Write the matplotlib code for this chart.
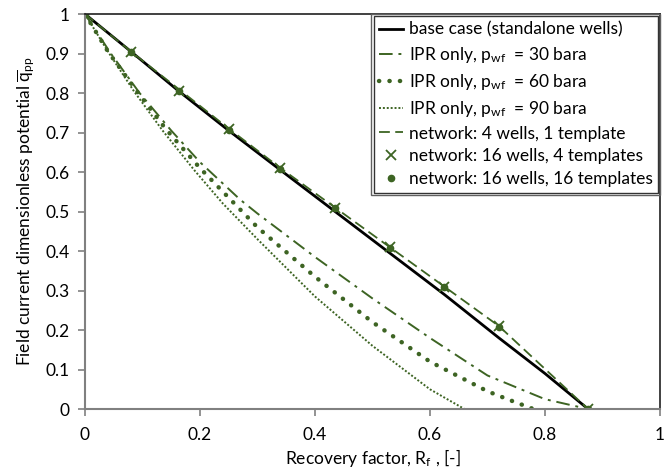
import numpy as np
import matplotlib
matplotlib.use("Agg")
import matplotlib.pyplot as plt
from matplotlib.patches import Rectangle

plt.rcParams['font.family'] = ['Lato', 'DejaVu Sans']
plt.rcParams['mathtext.fontset'] = 'custom'
plt.rcParams['mathtext.rm'] = 'Lato'
plt.rcParams['mathtext.it'] = 'Lato:italic'

GREEN = '#3d6423'

# base case (standalone wells)
rf_base = [0, 0.08, 0.163, 0.25, 0.34, 0.435, 0.53, 0.625, 0.72, 0.80, 0.875]
q_base = [1, 0.905, 0.805, 0.705, 0.605, 0.50, 0.395, 0.29, 0.18, 0.09, 0]

# IPR only curves
rf_ipr30 = [0, 0.045, 0.095, 0.15, 0.20, 0.27, 0.30, 0.40, 0.50, 0.60, 0.70, 0.80, 0.875]
q_ipr30 = [1, 0.90, 0.80, 0.705, 0.625, 0.53, 0.495, 0.385, 0.28, 0.18, 0.085, 0.025, 0]

rf_ipr60 = [0, 0.04, 0.09, 0.14, 0.20, 0.25, 0.30, 0.40, 0.50, 0.60, 0.70, 0.74, 0.78]
q_ipr60 = [1, 0.905, 0.805, 0.71, 0.61, 0.535, 0.46, 0.335, 0.22, 0.12, 0.045, 0.022, 0]

rf_ipr90 = [0, 0.04, 0.085, 0.135, 0.19, 0.24, 0.30, 0.40, 0.50, 0.60, 0.66]
q_ipr90 = [1, 0.905, 0.805, 0.705, 0.605, 0.52, 0.43, 0.285, 0.16, 0.05, 0]

# network runs
rf_net = [0, 0.08, 0.163, 0.25, 0.34, 0.435, 0.53, 0.625, 0.72, 0.875]
q_net4 = [1, 0.905, 0.81, 0.71, 0.61, 0.51, 0.41, 0.31, 0.21, 0]
q_net16_4 = [1, 0.905, 0.805, 0.71, 0.61, 0.51, 0.41, 0.31, 0.21, 0]
q_net16_16 = [1, 0.905, 0.805, 0.707, 0.608, 0.508, 0.408, 0.308, 0.208, 0]

fig = plt.figure(figsize=(6.67, 4.68), dpi=100)
ax = fig.add_axes([0.1274, 0.126, 0.862, 0.844])

ax.plot(rf_base, q_base, color='black', lw=2.0, label='base case (standalone wells)')
ax.plot(rf_ipr30, q_ipr30, color=GREEN, lw=1.4, ls=(0, (7, 3, 1.5, 3)),
        label=r'IPR only, p$_{\rm wf}$  = 30 bara')
ax.plot(rf_ipr60, q_ipr60, color=GREEN, lw=3.2, ls=(0, (0.05, 2.3)),
        dash_capstyle='round', label=r'IPR only, p$_{\rm wf}$  = 60 bara')
ax.plot(rf_ipr90, q_ipr90, color=GREEN, lw=1.4, ls=(0, (1, 1)),
        label=r'IPR only, p$_{\rm wf}$  = 90 bara')
ax.plot(rf_net, q_net4, color=GREEN, lw=1.3, ls=(0, (6, 3)),
        label='network: 4 wells, 1 template')
ax.plot(rf_net, q_net16_4, color=GREEN, ls='none', marker='x', ms=7, mew=1.3,
        label='network: 16 wells, 4 templates')
ax.plot(rf_net, q_net16_16, color=GREEN, ls='none', marker='o', ms=4.5,
        label='network: 16 wells, 16 templates')

ax.set_xlim(0, 1)
ax.set_ylim(0, 1)
ax.set_xticks(np.arange(0, 1.01, 0.2))
ax.set_xticklabels(['0', '0.2', '0.4', '0.6', '0.8', '1'])
ax.set_yticks(np.arange(0, 1.01, 0.1))
ax.set_yticklabels(['0'] + ['%.1f' % v for v in np.arange(0.1, 0.95, 0.1)] + ['1'])
ax.tick_params(direction='out', length=5, width=1.2, color='#808080',
               labelsize=12.5)
ax.tick_params(axis='x', pad=8)
ax.tick_params(axis='y', pad=6)

for side in ['left', 'bottom']:
    ax.spines[side].set_color('#808080')
    ax.spines[side].set_linewidth(1.5)
for side in ['top', 'right']:
    ax.spines[side].set_color('#202020')
    ax.spines[side].set_linewidth(1.2)

ax.set_xlabel(r'Recovery factor, R$_{\rm f}$ , [-]', fontsize=12.5, labelpad=3)
ax.set_ylabel(r'Field current dimensionless potential $\overline{\rm q}_{\rm pp}$',
              fontsize=12.5, labelpad=6)

leg = ax.legend(loc='upper right', bbox_to_anchor=(0.996, 0.994), borderaxespad=0,
                fontsize=12.5, frameon=True, fancybox=False, handlelength=1.4,
                handletextpad=0.3, labelspacing=0.4, borderpad=0.3)
leg.get_frame().set_edgecolor('black')
leg.get_frame().set_linewidth(1.0)

# second frame line around the legend
fig.canvas.draw()
bb = leg.get_window_extent().transformed(fig.transFigure.inverted())
dx, dy = 2.5 / 667, 2.5 / 468
fig.patches.append(Rectangle((bb.x0 - dx, bb.y0 - dy), bb.width + 2 * dx, bb.height + 2 * dy,
                             transform=fig.transFigure, fill=False, ec='#606060', lw=1.0))

fig.savefig('out.png', dpi=100)
